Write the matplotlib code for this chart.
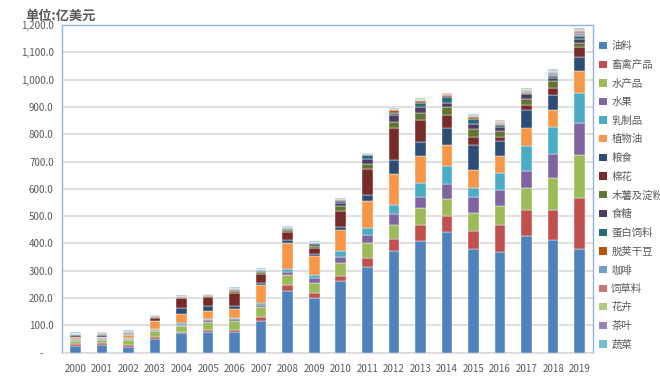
import matplotlib
matplotlib.use("Agg")
import matplotlib.pyplot as plt
from matplotlib.patches import Patch
import numpy as np

plt.rcParams['font.family'] = ['Noto Sans CJK SC', 'DejaVu Sans']

years = [str(y) for y in range(2000, 2020)]
series_names = ["油料", "畜禽产品", "水产品", "水果", "乳制品", "植物油", "粮食", "棉花",
                "木薯及淀粉", "食糖", "蛋白饲料", "脱荚干豆", "咖啡", "饲草料", "花卉", "茶叶", "蔬菜"]
colors = ["#4F81BD", "#C0504D", "#9BBB59", "#8064A2", "#4BACC6", "#F79646", "#2C4D75", "#772C2A",
          "#5F7530", "#4D3B62", "#276A7C", "#B65708", "#729ACA", "#CD7371", "#AFC97A", "#9983B5", "#6FBDD1"]

oilseeds   = [26, 30, 22, 51, 71, 77, 77, 116, 226, 202, 263, 313, 374, 409, 442, 380, 367, 429, 412, 380]
livestock  = [7, 6, 6, 6, 3, 6, 6, 16, 22, 18, 19, 32, 43, 60, 58, 67, 102, 93, 110, 188]
aquatic    = [10, 12, 19, 22, 22, 30, 33, 34, 36, 36, 47, 57, 52, 61, 63, 65, 69, 82, 118, 157]
fruit      = [5, 4, 3, 4, 6, 7, 7, 8, 12, 16, 22, 29, 39, 41, 55, 59, 56, 63, 86, 115]
dairy      = [3, 3, 3, 2, 5, 3, 5, 8, 11, 11, 21, 27, 31, 50, 64, 33, 65, 88, 100, 110]
veg_oil    = [7, 3, 10, 30, 36, 31, 33, 66, 95, 71, 77, 98, 117, 98, 77, 66, 60, 67, 61, 83]
grain      = [5, 6, 4, 2, 22, 17, 10, 6, 10, 9, 13, 21, 48, 51, 62, 91, 56, 65, 55, 49]
cotton     = [2, 2, 2, 10, 34, 32, 49, 34, 31, 21, 57, 94, 117, 83, 48, 27, 14, 20, 29, 36]
cassava    = [2, 2, 3, 5, 3, 6, 7, 6, 6, 8, 18, 19, 23, 24, 30, 31, 22, 23, 24, 15]
sugar      = [1, 2, 2, 1, 2, 2, 3, 4, 3, 5, 11, 19, 25, 22, 16, 17, 15, 16, 9, 16]
protein    = [1, 1, 2, 1, 1, 1, 2, 3, 3, 3, 9, 14, 10, 16, 22, 21, 7, 5, 10, 10]
pulses     = [1, 1, 1, 1, 1, 1, 1, 2, 2, 2, 2, 2, 8, 6, 5, 5, 3, 3, 4, 6]
coffee     = [1, 1, 2, 1, 1, 1, 2, 2, 2, 2, 2, 2, 2, 3, 3, 3, 4, 4, 5, 6]
forage     = [0.5, 1, 1, 0.5, 1, 0.5, 1, 1, 1, 1, 2, 2, 2, 3, 3, 4, 5, 4, 6, 6]
flowers    = [0.5, 1, 1, 0.5, 0.5, 0.5, 1, 1, 1, 1, 1, 1, 1, 1, 1, 1, 3, 2, 3, 3]
tea        = [1, 1, 1, 0.5, 0.5, 0.5, 1, 1, 1, 1, 1, 1, 1, 2, 1, 2, 3, 3, 4, 4]
vegetables = [1, 1, 1, 0.5, 0.5, 0.5, 1, 1, 1, 1, 1, 1, 2, 2, 2, 2, 2, 2, 3, 5]

data = [oilseeds, livestock, aquatic, fruit, dairy, veg_oil, grain, cotton, cassava, sugar,
        protein, pulses, coffee, forage, flowers, tea, vegetables]

yticks = list(range(0, 1201, 100))
ytick_labels = ["-     "] + [f"{v:,.1f}" for v in yticks[1:]]

fig = plt.figure(figsize=(6.6, 3.84), dpi=100)
ax = fig.add_axes([0.094, 0.0815, 0.8045, 0.8535])

x = np.arange(len(years))
bottom = np.zeros(len(years))
for name, vals, c in zip(series_names, data, colors):
    v = np.array(vals, dtype=float)
    ax.bar(x, v, width=0.40, bottom=bottom, color=c, edgecolor="white", linewidth=0.3, label=name, zorder=3)
    bottom += v

ax.set_xlim(-0.5, len(years) - 0.5)
ax.set_ylim(0, 1200)
ax.set_yticks(yticks)
ax.set_yticklabels(ytick_labels)
ax.set_xticks(x)
ax.set_xticklabels(years)
ax.tick_params(axis='both', length=0, labelsize=7, colors="#595959")
ax.tick_params(axis='x', pad=8)
ax.tick_params(axis='y', pad=6)
ax.grid(axis='y', color="#D9D9D9", linewidth=1.2, zorder=0)
for side in ["left", "top", "right"]:
    ax.spines[side].set_color("#95B3D7")
    ax.spines[side].set_linewidth(1.0)
ax.spines["bottom"].set_color("#D9D9D9")
ax.spines["bottom"].set_linewidth(1.2)

fig.text(0.039, 0.960, "单位:亿美元", fontsize=9.5, fontweight='bold', color="#595959", va='center', ha='left')

handles = [Patch(facecolor=c, edgecolor='none') for c in colors]
leg = ax.legend(handles, series_names, loc='upper left', bbox_to_anchor=(0.908, 0.893),
                bbox_transform=fig.transFigure, frameon=False, fontsize=7.5,
                labelspacing=0.82, handlelength=0.7, handleheight=0.7, handletextpad=0.45,
                borderaxespad=0, borderpad=0)
for t in leg.get_texts():
    t.set_color("#595959")

fig.savefig("out.png", dpi=100)
